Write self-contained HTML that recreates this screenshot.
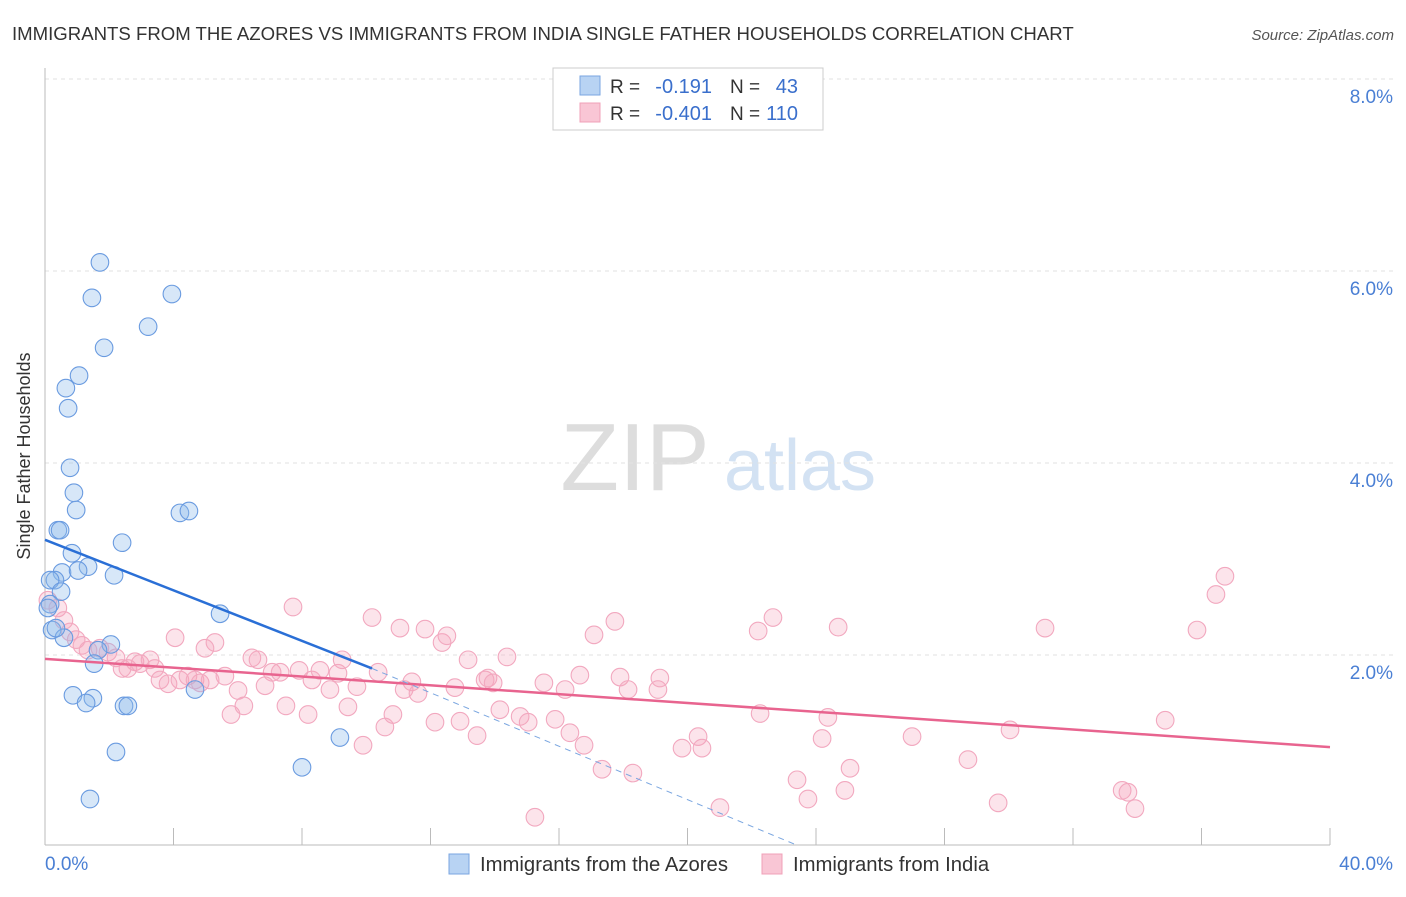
<!DOCTYPE html>
<html><head><meta charset="utf-8"><style>
body{margin:0;background:#fff;font-family:"Liberation Sans",sans-serif}
svg text{font-family:"Liberation Sans",sans-serif}
</style></head><body>
<svg id="c" width="1406" height="892">
<text x="12" y="40" font-size="18.6" fill="#333">IMMIGRANTS FROM THE AZORES VS IMMIGRANTS FROM INDIA SINGLE FATHER HOUSEHOLDS CORRELATION CHART</text>
<text x="1394" y="40" font-size="15" fill="#555" text-anchor="end" font-style="italic">Source: ZipAtlas.com</text>
<text x="30" y="456" font-size="18" fill="#333" text-anchor="middle" transform="rotate(-90 30 456)">Single Father Households</text>
<g><text x="635" y="490" font-size="96" fill="#ddd" text-anchor="middle" font-family="Liberation Serif">ZIP</text><text x="800" y="490" font-size="72" fill="#d3e2f3" text-anchor="middle">atlas</text></g>
<g id="grid"></g><g id="axes"></g><g id="pts"></g><g id="lines"></g>
<g>
<rect x="553" y="68" width="270" height="62" fill="#fff" stroke="#ccc"/>
<rect x="580" y="76" width="20" height="19" fill="#b8d3f3" stroke="#7aa6e0"/>
<rect x="580" y="103" width="20" height="19" fill="#f9c6d5" stroke="#f0a0b8"/>
<text x="610" y="93" font-size="19" fill="#333">R =</text><text x="712" y="93" font-size="20" fill="#3a6fcc" text-anchor="end">-0.191</text><text x="730" y="93" font-size="19" fill="#333">N =</text><text x="798" y="93" font-size="20" fill="#3a6fcc" text-anchor="end">43</text>
<text x="610" y="120" font-size="19" fill="#333">R =</text><text x="712" y="120" font-size="20" fill="#3a6fcc" text-anchor="end">-0.401</text><text x="730" y="120" font-size="19" fill="#333">N =</text><text x="798" y="120" font-size="20" fill="#3a6fcc" text-anchor="end">110</text>
</g>
<g>
<rect x="449" y="854" width="20" height="20" fill="#b8d3f3" stroke="#7aa6e0"/>
<text x="480" y="871" font-size="20.3" fill="#333">Immigrants from the Azores</text>
<rect x="762" y="854" width="20" height="20" fill="#f9c6d5" stroke="#f0a0b8"/>
<text x="793" y="871" font-size="20.3" fill="#333">Immigrants from India</text>
</g>
</svg>
<script>
const xTicks=[0,40];
const yTicks=[2,4,6,8];
const azoresX=[1.71,1.46,3.95,3.21,1.84,1.06,0.65,0.72,0.78,0.90,0.97,0.40,0.47,4.20,4.48,2.40,0.84,0.53,1.34,1.03,2.15,0.31,0.16,0.50,0.16,0.09,0.22,5.45,0.59,2.05,1.65,1.53,0.87,1.49,1.28,2.46,2.58,4.67,2.21,9.18,8.00,1.40,0.34];
const azoresY=[6.09,5.72,5.76,5.42,5.20,4.91,4.78,4.57,3.95,3.69,3.51,3.30,3.30,3.48,3.50,3.17,3.06,2.86,2.92,2.88,2.83,2.78,2.78,2.66,2.53,2.49,2.26,2.43,2.18,2.11,2.05,1.91,1.58,1.55,1.50,1.47,1.47,1.64,0.99,1.14,0.83,0.50,2.28];
const indiaX=[0.09,0.40,0.59,0.78,0.97,1.15,1.34,1.71,1.96,2.21,2.40,2.58,2.80,2.96,3.27,3.42,3.58,3.83,4.05,4.20,4.45,4.67,4.83,5.14,5.29,4.98,5.60,5.79,6.01,6.19,6.44,6.63,6.85,7.07,7.32,7.50,7.72,7.91,8.19,8.31,8.56,8.87,9.12,9.43,9.25,9.71,9.90,10.18,10.37,10.58,10.83,11.05,11.18,11.42,11.61,11.83,12.14,12.36,12.51,12.76,12.92,13.17,13.45,13.70,13.79,13.95,14.16,14.38,14.79,15.04,15.25,15.53,15.88,16.19,16.34,16.65,16.78,17.09,17.34,17.74,17.90,18.15,18.30,19.08,19.14,19.83,20.33,20.45,21.01,22.20,22.26,22.66,23.41,23.75,24.19,24.37,24.69,24.90,25.06,26.99,28.73,29.67,30.04,31.13,33.53,33.71,33.93,34.87,35.86,36.45,36.73];
const indiaY=[2.57,2.49,2.36,2.24,2.16,2.10,2.05,2.07,2.03,1.97,1.86,1.86,1.93,1.91,1.95,1.86,1.74,1.70,2.18,1.74,1.78,1.74,1.71,1.74,2.13,2.07,1.78,1.38,1.63,1.47,1.97,1.95,1.68,1.82,1.82,1.47,2.50,1.84,1.38,1.74,1.84,1.64,1.81,1.46,1.95,1.67,1.06,2.39,1.82,1.25,1.38,2.28,1.64,1.72,1.60,2.27,1.30,2.13,2.20,1.66,1.31,1.95,1.16,1.74,1.76,1.71,1.43,1.98,1.36,1.30,0.31,1.71,1.33,1.64,1.19,1.79,1.06,2.21,0.81,2.35,1.77,1.64,0.77,1.64,1.76,1.03,1.15,1.03,0.41,2.25,1.39,2.39,0.70,0.50,1.13,1.35,2.29,0.59,0.82,1.15,0.91,0.46,1.22,2.28,0.59,0.57,0.40,1.32,2.26,2.63,2.82];
const azoresTrend=[[0,3.20],[10.18,1.86]];
const azoresDash=[[10.18,1.86],[23.4,0.02]];
const indiaTrend=[[0,1.96],[40,1.04]];
const X=v=>45+v/40*1285, Y=v=>847-v*96;
const NS='http://www.w3.org/2000/svg';
function mk(t,a,p){const e=document.createElementNS(NS,t);for(const k in a)e.setAttribute(k,a[k]);p.appendChild(e);return e;}
const grid=document.getElementById('grid'),axes=document.getElementById('axes');
yTicks.forEach(t=>{const l=mk('line',{x1:45,x2:1394,y1:Y(t),y2:Y(t),stroke:'#e2e2e2','stroke-dasharray':'4 4'},grid);


const tx=mk('text',{x:1393,y:Y(t)+24,'font-size':19,fill:'#4a7fd4','text-anchor':'end'},axes);tx.textContent=t.toFixed(1)+'%';

});
mk('line',{x1:45,x2:45,y1:68,y2:845,stroke:'#bbb'},axes);
mk('line',{x1:45,x2:1330,y1:845,y2:845,stroke:'#bbb'},axes);
for(let i=0;i<=10;i++){mk('line',{x1:X(i*4),x2:X(i*4),y1:828,y2:845,stroke:'#bbb'},axes);}
xTicks.forEach((t,i)=>{const tx=mk('text',{x:i?1393:45,y:870,'font-size':19,fill:'#4a7fd4','text-anchor':i?'end':'start'},axes);tx.textContent=t.toFixed(1)+'%';

});
const pts=document.getElementById('pts');
indiaX.forEach((x,i)=>{const c=mk('circle',{cx:X(x),cy:Y(indiaY[i]),r:8.8,fill:'rgba(245,165,190,0.3)',stroke:'#f2a8bf','stroke-width':1.1},pts);

});
azoresX.forEach((x,i)=>{const c=mk('circle',{cx:X(x),cy:Y(azoresY[i]),r:8.8,fill:'rgba(140,185,235,0.35)',stroke:'#6a9be0','stroke-width':1.1},pts);

});
const ln=document.getElementById('lines');
function line(d,s,w,da,n){const l=mk('line',{x1:X(d[0][0]),y1:Y(d[0][1]),x2:X(d[1][0]),y2:Y(d[1][1]),stroke:s,'stroke-width':w},ln);if(da)l.setAttribute('stroke-dasharray',da);

}
line(indiaTrend,'#e8648f',2.5,null,'india-trend-line');
line(azoresTrend,'#2a6fd6',2.5,null,'azores-trend-line');
line(azoresDash,'#7aa6e0',1,'6 5','azores-trend-extension');
</script>
</body></html>
